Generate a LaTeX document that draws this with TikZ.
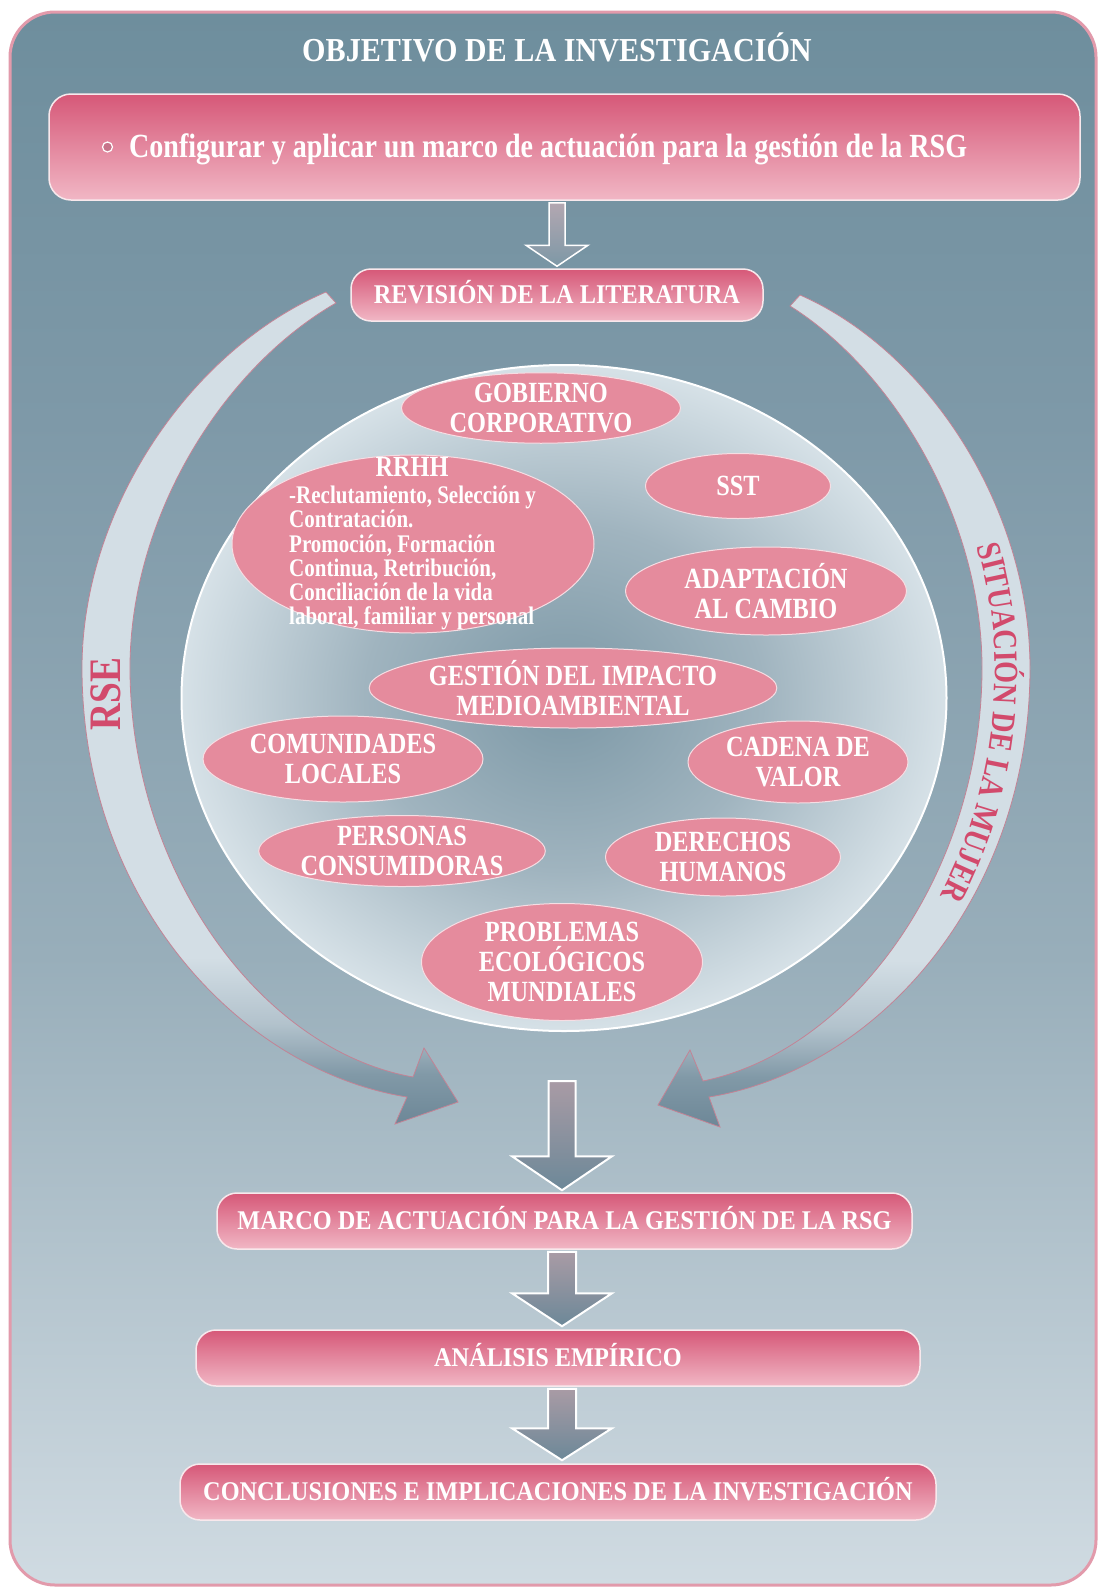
\documentclass[tikz,border=0pt]{standalone}
\usepackage{fontspec}
\setmainfont{Liberation Serif}[FakeStretch=0.9]
\newfontfamily\condfont{Liberation Serif}[FakeStretch=0.83]
\usetikzlibrary{shapes.geometric,calc,decorations.text}
\definecolor{boxtop}{HTML}{D65878}
\definecolor{boxbot}{HTML}{F1B7C5}
\definecolor{boxedge}{HTML}{F8E8EC}
\definecolor{ellpink}{HTML}{E58B9D}
\definecolor{elledge}{HTML}{F6DDE3}
\definecolor{bgtop}{HTML}{6E8E9D}
\definecolor{bgup}{HTML}{7E99A8}
\definecolor{bgmid}{HTML}{98AEBA}
\definecolor{bgbot}{HTML}{D0DBE2}
\definecolor{frameedge}{HTML}{E29AAB}
\definecolor{bandlight}{HTML}{D3DEE5}
\definecolor{bandmid}{HTML}{B2C2CC}
\definecolor{bandlow}{HTML}{8199A7}
\definecolor{banddark}{HTML}{6D8797}
\definecolor{bandedge}{HTML}{C38395}
\definecolor{ellc}{HTML}{7C98A6}
\definecolor{ellm}{HTML}{A0B4BF}
\definecolor{elle}{HTML}{D6E1E7}
\definecolor{arrtop}{HTML}{A99BA5}
\definecolor{arrbot}{HTML}{6C8898}
\definecolor{arrtopb}{HTML}{B3A7B1}
\definecolor{arrbotb}{HTML}{7D98A6}
\definecolor{rsered}{HTML}{D24A6C}
\definecolor{bulletfill}{HTML}{C7748A}
\pgfdeclareverticalshading{framebg}{100bp}{color(0bp)=(bgbot); color(25bp)=(bgbot); color(45bp)=(bgmid); color(62bp)=(bgup); color(75bp)=(bgtop); color(100bp)=(bgtop)}
\pgfdeclareverticalshading{bandshade}{100bp}{color(0bp)=(banddark); color(25bp)=(banddark); color(28bp)=(bandlow); color(31bp)=(bandmid); color(35bp)=(bandlight); color(100bp)=(bandlight)}
\pgfdeclareradialshading{bigell}{\pgfpoint{0bp}{0bp}}{color(0bp)=(ellc); color(13bp)=(ellm); color(25bp)=(elle); color(50bp)=(elle)}
\newcommand{\blockarrow}[6][]{%
  \path[#1] let \p1=(#2), \p2=(#3) in
    (\x2-#4,\y1) -- (\x2+#4,\y1) -- (\x2+#4,\y2+#6) -- (\x2+#5,\y2+#6)
    -- (\x2,\y2) -- (\x2-#5,\y2+#6) -- (\x2-#4,\y2+#6) -- cycle;}
\tikzset{
  pinkbox/.style={rectangle, rounded corners=20pt, top color=boxtop, bottom color=boxbot,
    draw=boxedge, line width=1.5pt, inner sep=0pt, text=white,
    font=\fontsize{27}{30}\selectfont\bfseries, text height=17.9pt, text depth=0pt},
  pinkell/.style={ellipse, fill=ellpink, draw=elledge, line width=1pt, inner sep=0pt,
    text=white, align=center, font=\condfont\fontsize{29.3}{30}\selectfont\bfseries},
  bandstyle/.style={shading=bandshade, draw=bandedge, line width=0.8pt},
  centerarrow/.style={top color=arrtop, bottom color=arrbot, draw=white, line width=2pt, line join=miter},
  lightarrow/.style={top color=arrtopb, bottom color=arrbotb, draw=white, line width=1.5pt},
  bulletdot/.style={circle, minimum size=10pt, inner sep=0pt, fill=bulletfill, draw=white, line width=1.2pt},
}
\begin{document}
\begin{tikzpicture}[x=1pt,y=-1pt]
\useasboundingbox (0,0) rectangle (1098,1588);
\fill[white] (0,0) rectangle (1098,1588);
% frame
\shadedraw[shading=framebg, draw=frameedge, line width=3pt, rounded corners=45pt] (10,12) rectangle (1096,1585);
% title
\node[text=white, font=\fontsize{33.5}{36}\selectfont\bfseries, text height=22.2pt, text depth=0pt, inner sep=0pt] (title) at (557,50) {OBJETIVO DE LA INVESTIGACIÓN};
% objective box
\node[pinkbox, rounded corners=22pt, minimum width=1031pt, minimum height=106pt] (objbox) at (564.5,147) {};
\node[bulletdot] (bul) at (107.5,147) {};
\node[anchor=base west, inner sep=0pt, text=white, font=\condfont\fontsize{33.8}{36}\selectfont\bfseries] (objtxt) at (129,157) {Configurar y aplicar un marco de actuación para la gestión de la RSG};
% revision
\node[pinkbox, minimum width=412pt, minimum height=52pt] (rev) at (557,295) {REVISIÓN DE LA LITERATURA};
\blockarrow[lightarrow]{$(objbox.south)+(0,2)$}{$(rev.north)+(0,-2)$}{8pt}{31pt}{21pt}
% curved bands
\shadedraw[bandstyle] (326,292) .. controls (190,350) and (82,510) .. (82,668)
  .. controls (82,900) and (240,1070) .. (407,1097) -- (395,1124) -- (458,1102) -- (424,1048) -- (413,1077)
  .. controls (260,1050) and (130,870) .. (130,668) .. controls (130,520) and (220,370) .. (336,303) -- cycle;
\shadedraw[bandstyle] (800,295) .. controls (930,352) and (1030,510) .. (1030,668)
  .. controls (1030,900) and (875,1070) .. (709,1097) -- (720,1127) -- (658,1105) -- (690,1050) -- (703,1081)
  .. controls (855,1050) and (982,870) .. (982,668) .. controls (982,520) and (895,372) .. (790,306) -- cycle;
\node[rotate=90, text=rsered, font=\condfont\fontsize{45}{45}\selectfont\bfseries, text height=29.8pt, text depth=0pt, inner sep=0pt] (rse) at (106,694) {RSE};
\path[decorate, decoration={text along path, text align=center, text color=rsered,
   text={|\condfont\fontsize{34}{36}\selectfont\bfseries|SITUACIÓN DE LA MUJER}}]
   (795,305) .. controls (908,366) and (995,517) .. (995,668) .. controls (995,882) and (864,1052) .. (706,1082);
% big ellipse
\node[ellipse, minimum width=765pt, minimum height=666pt, inner sep=0pt, shade, shading=bigell, draw=white, line width=2pt] (circ) at (564,698) {};
% topic ellipses
\node[pinkell, minimum width=279pt, minimum height=61pt] (gob) at (541,408) {GOBIERNO\\CORPORATIVO};
\node[pinkell, minimum width=362pt, minimum height=178pt] (rrhh) at (413,544) {};
\node[text=white, font=\condfont\fontsize{29.3}{30}\selectfont\bfseries, text height=19.4pt, text depth=0pt, inner sep=0pt] (rrhhT) at (412,467) {RRHH};
\node[anchor=north west, align=left, inner sep=0pt, text=white, font=\condfont\fontsize{25.3}{24.2}\selectfont\bfseries] (rrhhB) at (289,486) {-Reclutamiento, Selección y\\Contratación.\\Promoción, Formación\\Continua, Retribución,\\Conciliación de la vida\\laboral, familiar y personal};
\node[pinkell, minimum width=185pt, minimum height=65pt] (sst) at (738,486) {SST};
\node[pinkell, minimum width=281pt, minimum height=88pt] (adap) at (766,591) {ADAPTACIÓN\\AL CAMBIO};
\node[pinkell, minimum width=280pt, minimum height=86pt] (com) at (343,759) {COMUNIDADES\\LOCALES};
\node[pinkell, minimum width=344pt, minimum height=80pt] (gest) at (573,688) {GESTIÓN DEL IMPACTO\\MEDIOAMBIENTAL};
\node[pinkell, minimum width=220pt, minimum height=82pt] (cad) at (798,762) {CADENA DE\\VALOR};
\node[pinkell, minimum width=281pt, minimum height=71pt] (pers) at (402,851) {PERSONAS\\CONSUMIDORAS};
\node[pinkell, minimum width=235pt, minimum height=78pt] (der) at (723,857) {DERECHOS\\HUMANOS};
\node[pinkell, minimum width=281pt, minimum height=117pt] (prob) at (562,962) {PROBLEMAS\\ECOLÓGICOS\\MUNDIALES};
% lower flow
\coordinate (conv) at (562,1081);
\node[pinkbox, minimum width=695pt, minimum height=56pt] (marco) at (564.5,1221) {MARCO DE ACTUACIÓN PARA LA GESTIÓN DE LA RSG};
\node[pinkbox, minimum width=724pt, minimum height=56pt] (anal) at (558,1358) {ANÁLISIS EMPÍRICO};
\node[pinkbox, minimum width=756pt, minimum height=56pt] (concl) at (558,1492) {CONCLUSIONES E IMPLICACIONES DE LA INVESTIGACIÓN};
\blockarrow[centerarrow]{conv}{$(marco.north)+(-2.5,-2)$}{13.5pt}{50pt}{34pt}
\blockarrow[centerarrow]{$(marco.south)+(0,2)$}{$(anal.north)+(4,-3)$}{14pt}{50pt}{33pt}
\blockarrow[centerarrow]{$(anal.south)+(0,2)$}{$(concl.north)+(4,-3)$}{14pt}{50pt}{32pt}
\end{tikzpicture}
\end{document}
